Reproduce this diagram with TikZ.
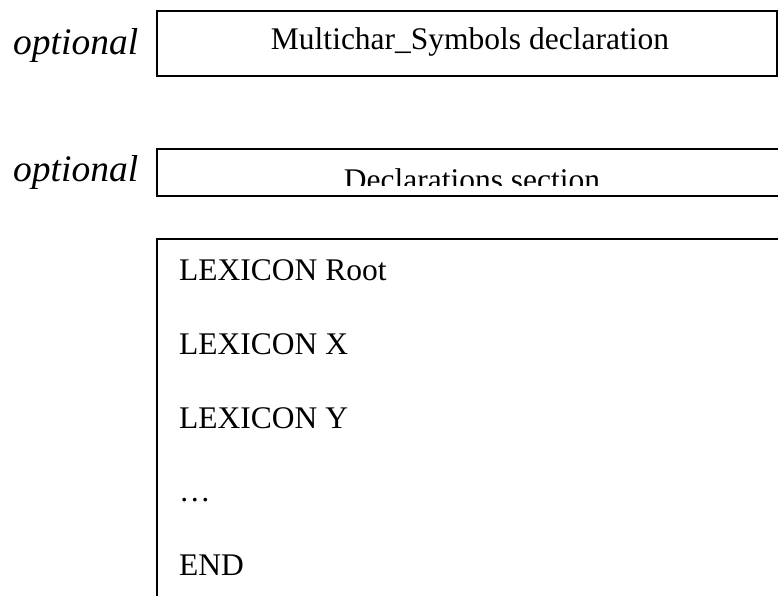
\documentclass[tikz,border=0pt]{standalone}
\usepackage{fontspec}
\setmainfont{Liberation Serif}
\begin{document}
\begin{tikzpicture}[x=1pt,y=-1pt,
  frame/.style={line width=1.5pt,draw=black},
  bodytext/.style={inner sep=0pt,anchor=base west,font=\fontsize{31.5}{38}\selectfont},
  centertext/.style={inner sep=0pt,anchor=base,font=\fontsize{31.5}{38}\selectfont},
  opttext/.style={inner sep=0pt,anchor=base west,font=\fontsize{37.5}{44}\selectfont\itshape}]
\useasboundingbox (0,0) rectangle (778,596);

% Multichar_Symbols box
\draw[frame] (157,11) rectangle (777,76);
\node[centertext] (multichar) at (470,50) {Multichar\_Symbols declaration};
\node[opttext] (opt1) at (13,55) {optional};

% Declarations box, open to the right; its text is cut off at the bottom
\draw[frame] (778,149) -- (157,149) -- (157,196) -- (778,196);
\begin{scope}
  \clip (158,150) rectangle (778,185);
  \node[centertext] (decl) at (472,190) {Declarations section};
\end{scope}
\node[opttext] (opt2) at (13,182) {optional};

% Lexicon box, open to the right and bottom
\draw[frame] (778,239) -- (157,239) -- (157,596);
\node[bodytext] (lexroot) at (179,280) {LEXICON Root};
\node[bodytext] (lexx)    at (179,354) {LEXICON X};
\node[bodytext] (lexy)    at (179,428) {LEXICON Y};
\node[bodytext] (dots)    at (179,501) {…};
\node[bodytext] (lexend)  at (179,575) {END};
\end{tikzpicture}
\end{document}
